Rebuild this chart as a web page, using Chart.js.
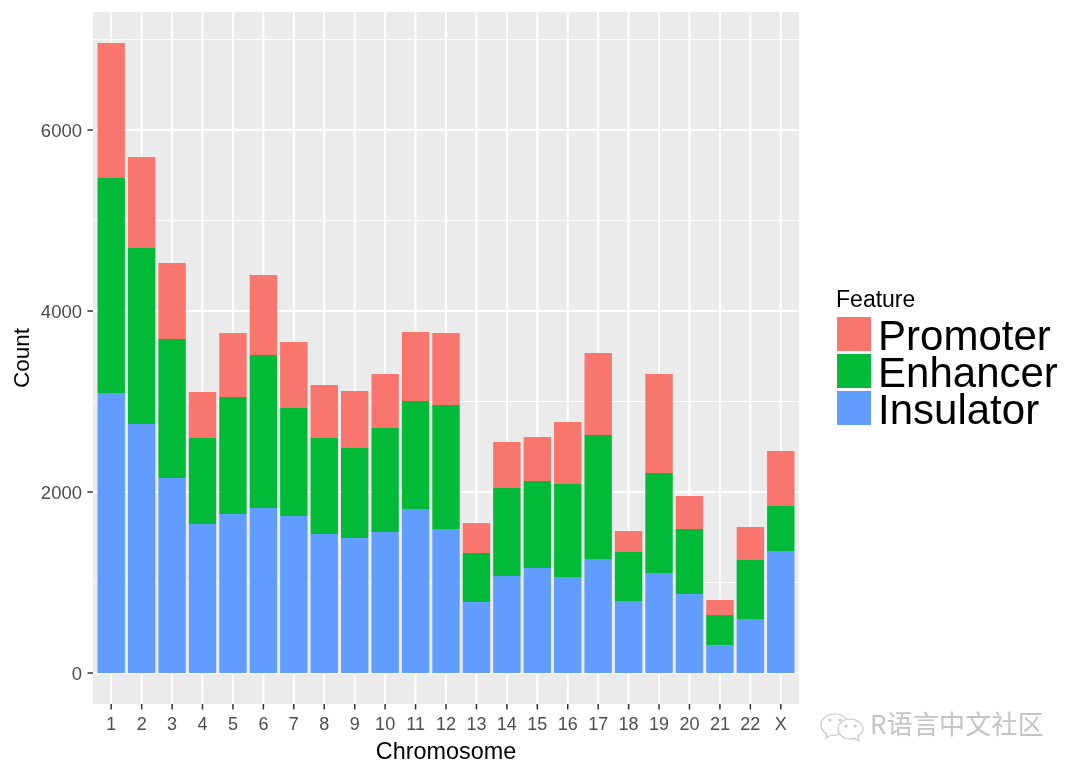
<!DOCTYPE html>
<html><head><meta charset="utf-8">
<style>html,body{margin:0;padding:0;background:#fff}#w{position:relative;width:1080px;height:771px}
#wm{position:absolute;left:870px;top:708px;font:26px "Noto Sans CJK SC";color:#c4c4c4;line-height:30px;white-space:nowrap;letter-spacing:.2px}
#ic{position:absolute;left:820px;top:705px}</style>
<script src="https://cdn.jsdelivr.net/npm/chart.js@4"></script></head>
<body><div id="w"><canvas id="c" width="1080" height="771"></canvas>
<svg id="ic" width="46" height="40" viewBox="0 0 46 40" fill="#fff" stroke="#c8c8c8" stroke-width="1.2"><path d="M15 9c-8 0-14 5-14 11 0 4 2 7 6 9l-1 4 5-3c2 0 3 1 5 0 6-1 12-10 12-12-2-6-7-9-13-9z"/><path d="M30 14c-7 0-12 5-12 10s5 10 12 10c2 0 3 0 4-1l5 3-1-5c3-2 5-4 5-7 0-5-6-10-13-10z"/><circle cx="26" cy="21" r="1" fill="#c8c8c8"/><circle cx="35" cy="21" r="1" fill="#c8c8c8"/><circle cx="10" cy="15" r="1" fill="#c8c8c8"/><circle cx="20" cy="15" r="1" fill="#c8c8c8"/></svg>
<div id="wm">R语言中文社区</div></div>
<script>
const categories=['1','2','3','4','5','6','7','8','9','10','11','12','13','14','15','16','17','18','19','20','21','22','X'];
const insulator=[3094,2751,2155,1646,1757,1823,1735,1536,1492,1558,1812,1591,785,1072,1160,1061,1260,796,1105,873,309,597,1348];
const enhancer=[2376,1945,1535,951,1293,1691,1193,1061,994,1149,1194,1370,541,972,962,1027,1370,541,1105,718,332,652,497];
const promoter=[1491,1006,840,508,707,884,729,585,630,597,762,796,331,508,486,685,906,232,1094,365,166,364,608];
const yMajor=[0,2000,4000,6000];
const yMinor=[1000,3000,5000,7000];
const colors={Promoter:'#F8766D',Enhancer:'#00BA38',Insulator:'#619CFF'};
const legendTitle='Feature';
const font='"Liberation Sans"';
const panel={
 id:'panel',
 beforeDatasetsDraw(ch){
  const g=ch.ctx,a=ch.chartArea,x=ch.scales.x,y=ch.scales.y,pad=x.width/23*0.1;
  g.save();
  g.fillStyle='#EBEBEB';g.fillRect(a.left-pad,a.top,a.width+2*pad,a.height);
  g.strokeStyle='#fff';
  g.lineWidth=1;yMinor.forEach(v=>{const p=y.getPixelForValue(v);g.beginPath();g.moveTo(a.left-pad,p);g.lineTo(a.right+pad,p);g.stroke();});
  g.lineWidth=2;yMajor.forEach(v=>{const p=y.getPixelForValue(v);g.beginPath();g.moveTo(a.left-pad,p);g.lineTo(a.right+pad,p);g.stroke();});
  categories.forEach((c,i)=>{const p=x.getPixelForValue(i);g.beginPath();g.moveTo(p,a.top);g.lineTo(p,a.bottom);g.stroke();});
  g.strokeStyle='#333';g.lineWidth=1.5;
  yMajor.forEach(v=>{const p=y.getPixelForValue(v);g.beginPath();g.moveTo(a.left-pad-5.5,p);g.lineTo(a.left-pad,p);g.stroke();});
  categories.forEach((c,i)=>{const p=x.getPixelForValue(i);g.beginPath();g.moveTo(p,a.bottom);g.lineTo(p,a.bottom+5.5);g.stroke();});
  g.restore();
 },
 afterDraw(ch){
  const g=ch.ctx,a=ch.chartArea,x=ch.scales.x,pad=x.width/23*0.1,lx=a.right+pad+38;
  g.save();g.textBaseline='middle';g.fillStyle='#000';
  g.font='23px '+font;g.fillText(legendTitle,lx-1,301);
  [...ch.data.datasets].reverse().forEach((d,i)=>{
   g.fillStyle=d.backgroundColor;g.fillRect(lx,317+i*37,34,34);
   g.fillStyle='#000';g.font='42px '+font;g.fillText(d.label,lx+41,338+i*37);
  });
  g.restore();
 }
};
new Chart(document.getElementById('c'),{
 type:'bar',
 data:{labels:categories,datasets:[
  {label:'Insulator',data:insulator,backgroundColor:colors.Insulator},
  {label:'Enhancer',data:enhancer,backgroundColor:colors.Enhancer},
  {label:'Promoter',data:promoter,backgroundColor:colors.Promoter}]},
 options:{
  responsive:false,animation:false,
  layout:{padding:{top:12,left:0,right:284,bottom:0}},
  datasets:{bar:{barPercentage:0.9,categoryPercentage:1}},
  plugins:{legend:{display:false},tooltip:{enabled:false}},
  scales:{
   x:{stacked:true,offset:true,grid:{display:false},border:{display:false},
      ticks:{color:'#4D4D4D',font:{family:font,size:18},padding:2,maxRotation:0,autoSkip:false},
      title:{display:true,text:'Chromosome',color:'#000',font:{family:font,size:23.4},padding:{top:2,bottom:4}},
      afterFit(s){s.height=67;}},
   y:{stacked:true,min:-342,max:7304,grid:{display:false,drawTicks:true,tickLength:14},border:{display:false},
      afterBuildTicks(s){s.ticks=yMajor.map(v=>({value:v}));},
      ticks:{color:'#4D4D4D',font:{family:font,size:18.5},padding:0,labelOffset:1.5,callback:v=>String(v)},
      title:{display:true,text:'Count',color:'#000',font:{family:font,size:22.5},padding:{top:9,bottom:0}},
      afterFit(s){s.width=96;}}
  }
 },
 plugins:[panel]
});
</script></body></html>
